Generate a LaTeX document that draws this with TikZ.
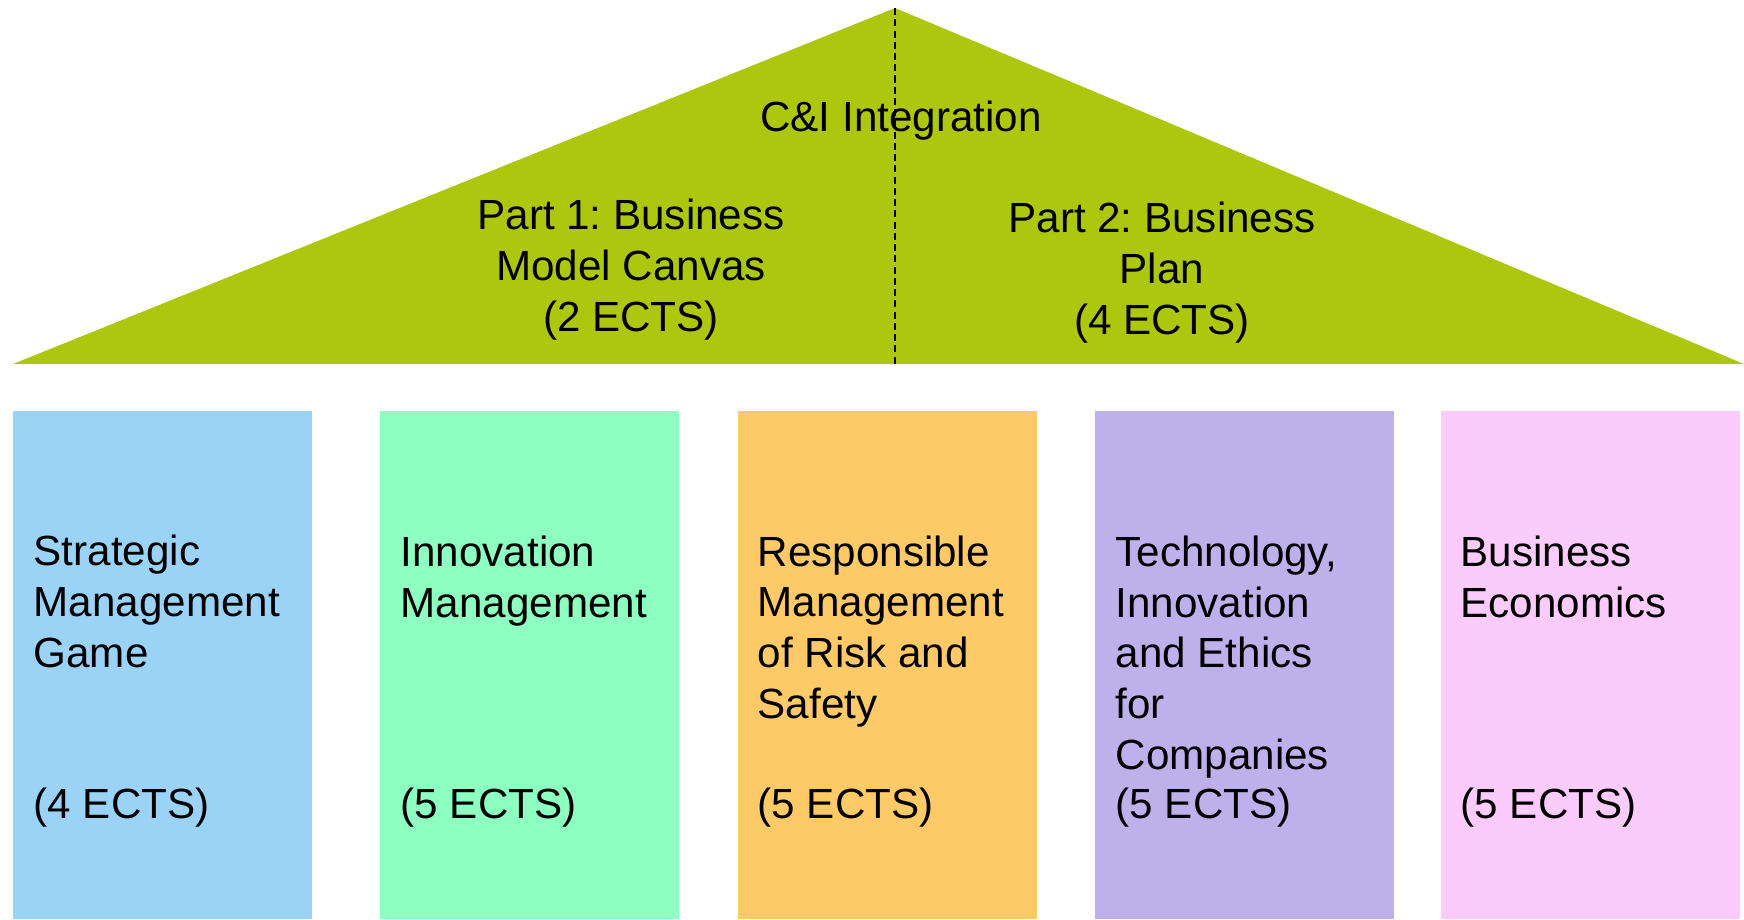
\documentclass[tikz,border=0pt]{standalone}
\usepackage{fontspec}
\setmainfont{Liberation Sans}
\frenchspacing
\definecolor{roofgreen}{RGB}{173,199,15}
\definecolor{colblue}{RGB}{155,211,246}
\definecolor{colmint}{RGB}{141,255,192}
\definecolor{colorange}{RGB}{253,202,103}
\definecolor{colpurple}{RGB}{190,176,235}
\definecolor{colpink}{RGB}{251,203,252}
\tikzset{
  pillar/.style={anchor=north west,minimum width=29.9mm,minimum height=50.8mm,inner sep=0pt,outer sep=0pt},
  pillartext/.style={anchor=base west,align=left,inner sep=0pt,font=\fontsize{12pt}{14.4pt}\selectfont},
  rooftext/.style={anchor=base,align=center,inner sep=0pt,font=\fontsize{12pt}{14.4pt}\selectfont}
}
\begin{document}
\begin{tikzpicture}[x=0.1mm,y=-0.1mm]
      \useasboundingbox (0,0) rectangle (1744,919);
      % Roof
      \coordinate (apex) at (895,8);
      \coordinate (baseL) at (13,364);
      \coordinate (baseR) at (1744,364);
      \coordinate (baseM) at (895,364);
      \fill[roofgreen] (baseL) -- (apex) -- (baseR) -- cycle;
      \draw[line width=0.6pt,dash pattern=on 2pt off 1.2pt] (apex) -- (baseM);
      \node[rooftext] (ci) at (901,131) {C\&I Integration};
      \node[rooftext] (part1) at (631,331) {Part 1: Business\\Model Canvas\\(2 ECTS)};
      \node[rooftext] (part2) at (1162,334) {Part 2: Business\\Plan\\(4 ECTS)};
      % Nodes: Pillars
      \node[pillar,fill=colblue] (smg) at (13,411) {};
      \node[pillar,fill=colmint] (im) at (380,411) {};
      \node[pillar,fill=colorange] (rm) at (738,411) {};
      \node[pillar,fill=colpurple] (tie) at (1095,411) {};
      \node[pillar,fill=colpink] (be) at (1441,411) {};
      % Texts: course names (placed at last baseline)
      \node[pillartext] (smgname) at (33,667) {Strategic\\Management\\Game};
      \node[pillartext] (imname) at (400,617) {Innovation\\Management};
      \node[pillartext] (rmname) at (757,718) {Responsible\\Management\\of Risk and\\Safety};
      \node[pillartext] (tiename) at (1115,769) {Technology,\\Innovation\\and Ethics\\for\\Companies};
      \node[pillartext] (bename) at (1460,617) {Business\\Economics};
      % Texts: credits
      \node[pillartext] (smgects) at (33,818) {(4 ECTS)};
      \node[pillartext] (imects) at (400,818) {(5 ECTS)};
      \node[pillartext] (rmects) at (757,818) {(5 ECTS)};
      \node[pillartext] (tieects) at (1115,818) {(5 ECTS)};
      \node[pillartext] (beects) at (1460,818) {(5 ECTS)};
    \end{tikzpicture}
\end{document}
